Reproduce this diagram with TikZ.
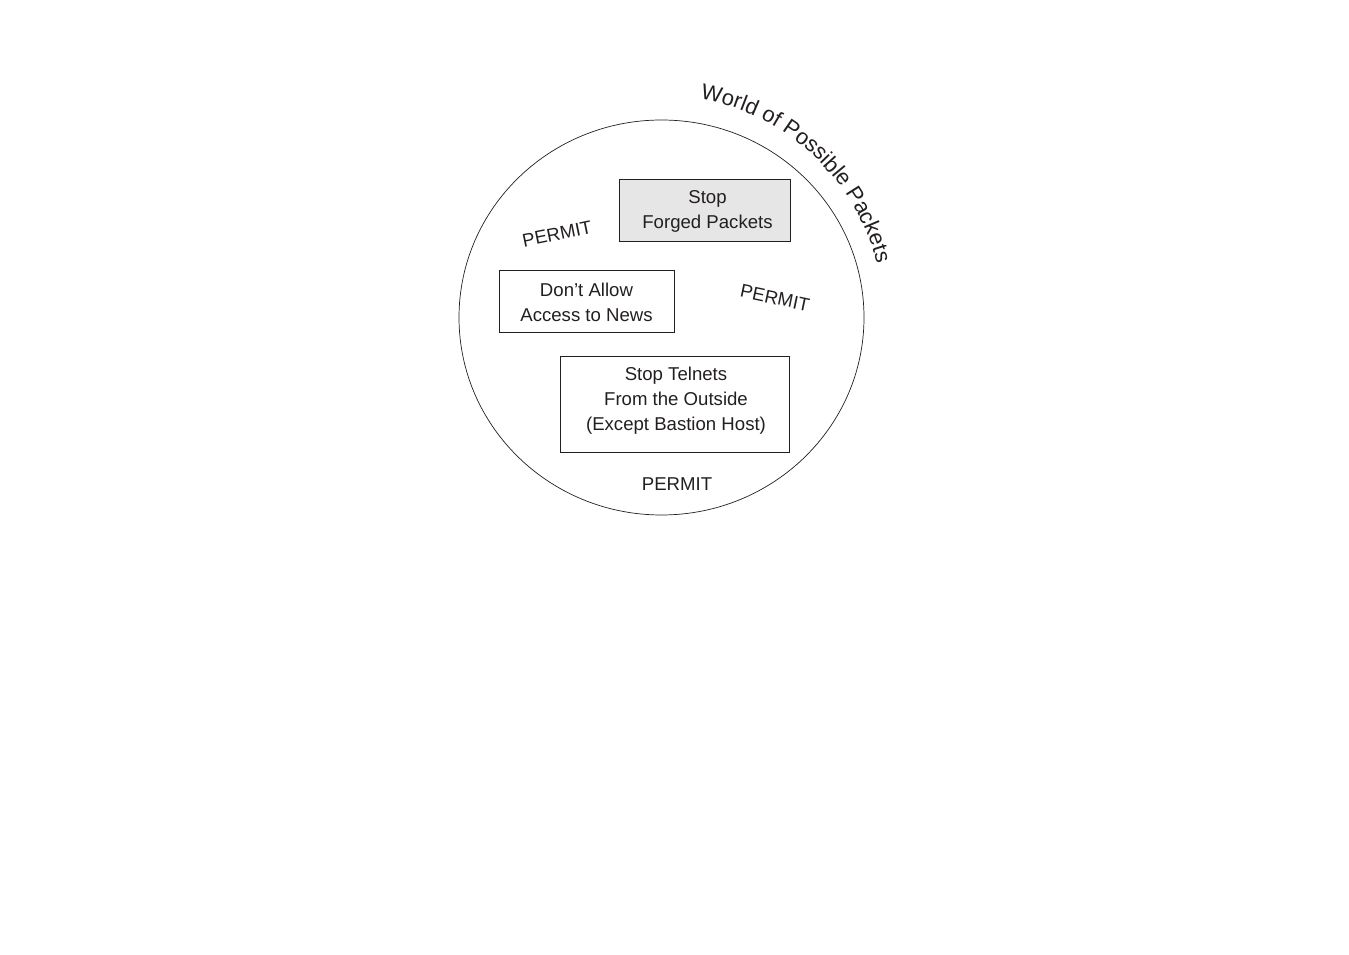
\documentclass[tikz,border=0pt]{standalone}
\usepackage{fontspec}
\setmainfont{Liberation Sans}
\usetikzlibrary{decorations.text,calc}
\definecolor{ink}{HTML}{231F20}
\definecolor{boxgray}{HTML}{E6E6E7}
\tikzset{
  rulebox/.style={draw=ink, line width=0.9pt, inner sep=0pt},
  boxtext/.style={align=center, text=ink, inner sep=0pt,
    font=\fontsize{18.6}{25}\selectfont},
  permit/.style={text=ink, inner sep=0pt, font=\fontsize{18.6}{24.5}\selectfont},
}
\begin{document}
\begin{tikzpicture}[x=1pt,y=1pt]
\useasboundingbox (0,0) rectangle (1349,954);
% world circle
\draw[ink, line width=0.7pt] (661.5,636.5) ellipse [x radius=202.5, y radius=197.5];
\coordinate (wc) at (661.5,636.5);
% title along arc
\path[decorate, decoration={text along path, text align=center,
  text color=ink,
  text={|\fontsize{22}{26}\selectfont|World of Possible Packets}}]
  ($(wc)+(80:222)$) arc[start angle=80, end angle=14, radius=222];
% rule boxes
\node[rulebox, fill=boxgray, minimum width=171pt, minimum height=62pt] (forged) at (704.5,744) {};
\node[boxtext] (forgedtxt) at (707.5,742.5) {Stop\\Forged Packets};
\node[rulebox, minimum width=175pt, minimum height=62pt] (news) at (586.5,653) {};
\node[boxtext] (newstxt) at (586.5,651.5) {Don’t Allow\\Access to News};
\node[rulebox, minimum width=229pt, minimum height=96pt] (telnet) at (674.5,550) {};
\node[boxtext] (telnettxt) at (676,553) {Stop Telnets\\From the Outside\\(Except Bastion Host)};
% permit labels
\node[permit, rotate=11.5] (p1) at (557,720) {PERMIT};
\node[permit, rotate=-12] (p2) at (775,656) {PERMIT};
\node[permit] (p3) at (677,470) {PERMIT};
\end{tikzpicture}
\end{document}
